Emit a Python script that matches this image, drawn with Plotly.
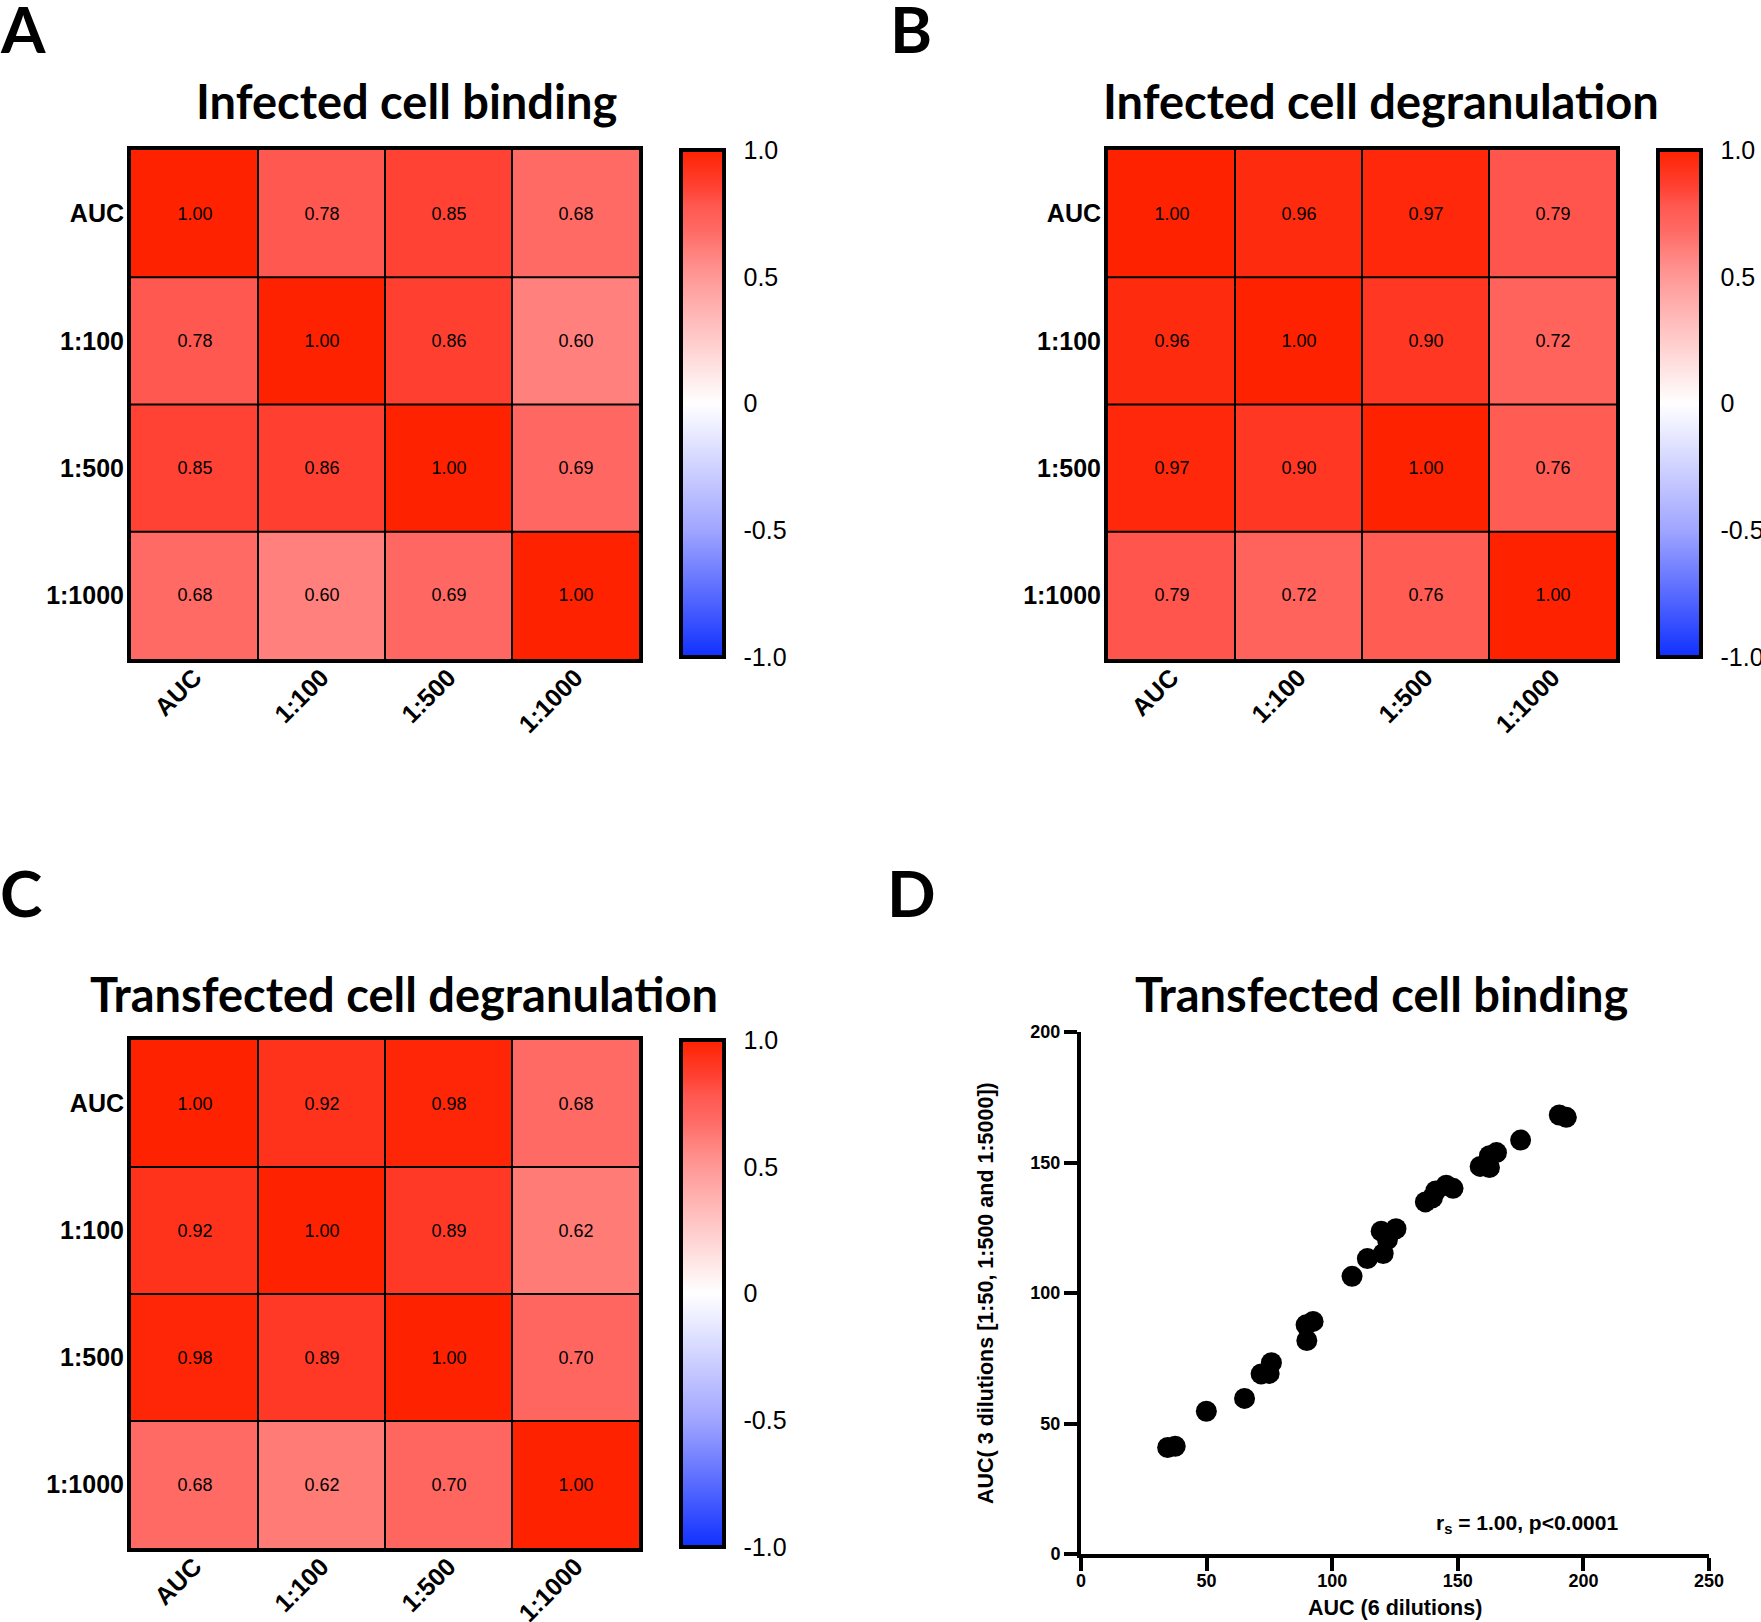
import plotly.graph_objects as go

W, H = 1761, 1622

labels = ["AUC", "1:100", "1:500", "1:1000"]

infected_binding = [
    [1.00, 0.78, 0.85, 0.68],
    [0.78, 1.00, 0.86, 0.60],
    [0.85, 0.86, 1.00, 0.69],
    [0.68, 0.60, 0.69, 1.00],
]
infected_degranulation = [
    [1.00, 0.96, 0.97, 0.79],
    [0.96, 1.00, 0.90, 0.72],
    [0.97, 0.90, 1.00, 0.76],
    [0.79, 0.72, 0.76, 1.00],
]
transfected_degranulation = [
    [1.00, 0.92, 0.98, 0.68],
    [0.92, 1.00, 0.89, 0.62],
    [0.98, 0.89, 1.00, 0.70],
    [0.68, 0.62, 0.70, 1.00],
]

auc6 = [34.5, 37.5, 49.9, 65.1, 71.7, 74.9, 75.8, 89.6, 92.4, 89.9, 107.9, 114.0,
        119.5, 120.3, 122.0, 125.4, 137.1, 139.9, 141.2, 145.4, 148.1, 158.9, 162.6,
        162.6, 165.4, 175.0, 190.4, 193.2]
auc3 = [40.8, 41.3, 54.7, 59.6, 69.0, 69.2, 73.3, 87.8, 89.1, 81.8, 106.4, 113.2,
        123.7, 115.1, 120.5, 124.6, 134.9, 136.5, 139.1, 141.3, 140.1, 148.5, 148.1,
        152.6, 153.8, 158.6, 168.2, 167.3]

cb_vals = [-1, -0.5, 0, 0.5, 1]
cb_text = ["-1.0", "-0.5", "0", "0.5", "1.0"]
cb_inner_ticks = [-0.5, 0, 0.5]

colorscale = [
    [0.0, "rgb(16,48,255)"],
    [0.25, "rgb(160,165,255)"],
    [0.5, "rgb(255,255,255)"],
    [0.75, "rgb(255,152,150)"],
    [0.8, "rgb(255,128,124)"],
    [0.84, "rgb(255,106,100)"],
    [0.89, "rgb(255,88,80)"],
    [0.925, "rgb(255,66,52)"],
    [1.0, "rgb(255,34,0)"],
]

def px(x):
    return x / W

def py(y):
    return 1 - y / H

fig = go.Figure()

CB_T = 43      # bar thickness (px)
CB_LEN = 507   # bar length (px)

# (data, xaxis, yaxis, colorbar left px, colorbar top px)
heat_specs = [
    (infected_binding, "x", "y", 681, 150),
    (infected_degranulation, "x2", "y2", 1658, 150),
    (transfected_degranulation, "x3", "y3", 681, 1040),
]
for z, xa, ya, cbx, cby in heat_specs:
    fig.add_trace(go.Heatmap(
        z=z, x=labels, y=labels, xaxis=xa, yaxis=ya,
        zmin=-1, zmax=1, colorscale=colorscale,
        texttemplate="%{z:.2f}",
        textfont=dict(family="Liberation Sans, Arial", size=18, color="black"),
        hoverinfo="skip",
        colorbar=dict(
            x=px(cbx), xanchor="left", y=py(cby), yanchor="top",
            lenmode="pixels", len=CB_LEN, thickness=CB_T,
            xpad=0, ypad=0,
            outlinewidth=4, outlinecolor="black",
            tickvals=cb_vals, ticktext=cb_text,
            ticks="outside", ticklen=13, tickwidth=1, tickcolor="rgba(0,0,0,0)",
            tickfont=dict(family="Liberation Sans, Arial", size=25, color="black"),
        ),
    ))

fig.add_trace(go.Scatter(
    x=auc6, y=auc3, mode="markers", xaxis="x4", yaxis="y4",
    marker=dict(size=21, color="black", line=dict(width=0)),
    hoverinfo="skip", showlegend=False,
))

heat_x = dict(showline=True, mirror=True, linewidth=4, linecolor="black",
              ticks="", showgrid=False, zeroline=False, tickangle=-45, automargin=False,
              ticklabelstandoff=-10,
              tickfont=dict(family="Liberation Sans, Arial", size=25, color="black", weight="bold"))
heat_y = dict(showline=True, mirror=True, linewidth=4, linecolor="black",
              ticks="", showgrid=False, zeroline=False, autorange="reversed", automargin=False,
              ticklabelstandoff=-2,
              tickfont=dict(family="Liberation Sans, Arial", size=25, color="black", weight="bold"))

sc_tickfont = dict(family="Liberation Sans, Arial", size=18, color="black", weight="bold")

layout = dict(
    width=W, height=H,
    margin=dict(l=0, r=0, t=0, b=0, autoexpand=False),
    paper_bgcolor="white",
    plot_bgcolor="white",
    showlegend=False,
    xaxis=dict(domain=[px(131), px(639)], anchor="y", **heat_x),
    yaxis=dict(domain=[py(659), py(150)], anchor="x", **heat_y),
    xaxis2=dict(domain=[px(1108), px(1616)], anchor="y2", **heat_x),
    yaxis2=dict(domain=[py(659), py(150)], anchor="x2", **heat_y),
    xaxis3=dict(domain=[px(131), px(639)], anchor="y3", **heat_x),
    yaxis3=dict(domain=[py(1548), py(1040)], anchor="x3", **heat_y),
    xaxis4=dict(domain=[px(1081), px(1709)], anchor="y4", range=[0, 250],
                tickvals=[0, 50, 100, 150, 200, 250], automargin=False,
                showline=True, linewidth=4, linecolor="black", ticks="outside",
                ticklen=13, tickwidth=4, tickcolor="black", showgrid=False, zeroline=False,
                ticklabelstandoff=-6, tickfont=sc_tickfont),
    yaxis4=dict(domain=[py(1554), py(1032)], anchor="x4", range=[0, 200],
                tickvals=[0, 50, 100, 150, 200], automargin=False,
                showline=True, linewidth=4, linecolor="black", ticks="outside",
                ticklen=13, tickwidth=4, tickcolor="black", showgrid=False, zeroline=False,
                tickfont=sc_tickfont),
)
fig.update_layout(**layout)

# thin cell borders inside heatmaps
for _, xa, ya, _, _ in heat_specs:
    for k in range(len(labels) - 1):
        b = k + 0.5
        fig.add_shape(type="line", xref=xa, yref=f"{ya} domain", x0=b, x1=b, y0=0, y1=1,
                      line=dict(color="black", width=2), layer="above")
        fig.add_shape(type="line", xref=f"{xa} domain", yref=ya, x0=0, x1=1, y0=b, y1=b,
                      line=dict(color="black", width=2), layer="above")

# inward tick marks on both sides of each colour bar
for _, _, _, cbx, cby in heat_specs:
    for v in cb_inner_ticks:
        ty = cby + (1 - (v + 1) / 2) * CB_LEN
        for x0, x1 in ((cbx, cbx + 9), (cbx + CB_T - 9, cbx + CB_T)):
            fig.add_shape(type="line", xref="paper", yref="paper",
                          x0=px(x0), x1=px(x1), y0=py(ty), y1=py(ty),
                          line=dict(color="black", width=3))

title_font = dict(family="Lato", size=47, color="black", weight="bold")
letter_font = dict(family="Lato", size=64, color="black", weight="bold")

annos = [
    ("Infected cell binding", 406, 101, title_font),
    ("Infected cell degranulation", 1381, 101, title_font),
    ("Transfected cell degranulation", 404, 994, title_font),
    ("Transfected cell binding", 1381, 994, title_font),
    ("A", 23, 28, letter_font),
    ("B", 911, 28, letter_font),
    ("C", 21, 893, letter_font),
    ("D", 912, 893, letter_font),
]
for text, x, y, f in annos:
    fig.add_annotation(text=text, x=px(x), y=py(y), xref="paper", yref="paper",
                       xanchor="center", yanchor="middle", showarrow=False, font=f)

axis_title_font = dict(family="Liberation Sans, Arial", size=21.5, color="black", weight="bold")
fig.add_annotation(text="AUC (6 dilutions)", x=px(1395), y=py(1608), xref="paper", yref="paper",
                   xanchor="center", yanchor="middle", showarrow=False, font=axis_title_font)
fig.add_annotation(text="AUC( 3 dilutions [1:50, 1:500 and 1:5000])", x=px(986), y=py(1293),
                   xref="paper", yref="paper", xanchor="center", yanchor="middle",
                   textangle=-90, showarrow=False, font=axis_title_font)
fig.add_annotation(text="r<sub>s</sub> = 1.00, p&lt;0.0001", x=px(1620), y=py(1524),
                   xref="paper", yref="paper", xanchor="right", yanchor="middle",
                   showarrow=False,
                   font=dict(family="Liberation Sans, Arial", size=21, color="black", weight="bold"))

fig.write_html("out.html", config={"displayModeBar": False},
               post_script="document.body.style.margin='0';document.body.style.overflow='hidden';")
